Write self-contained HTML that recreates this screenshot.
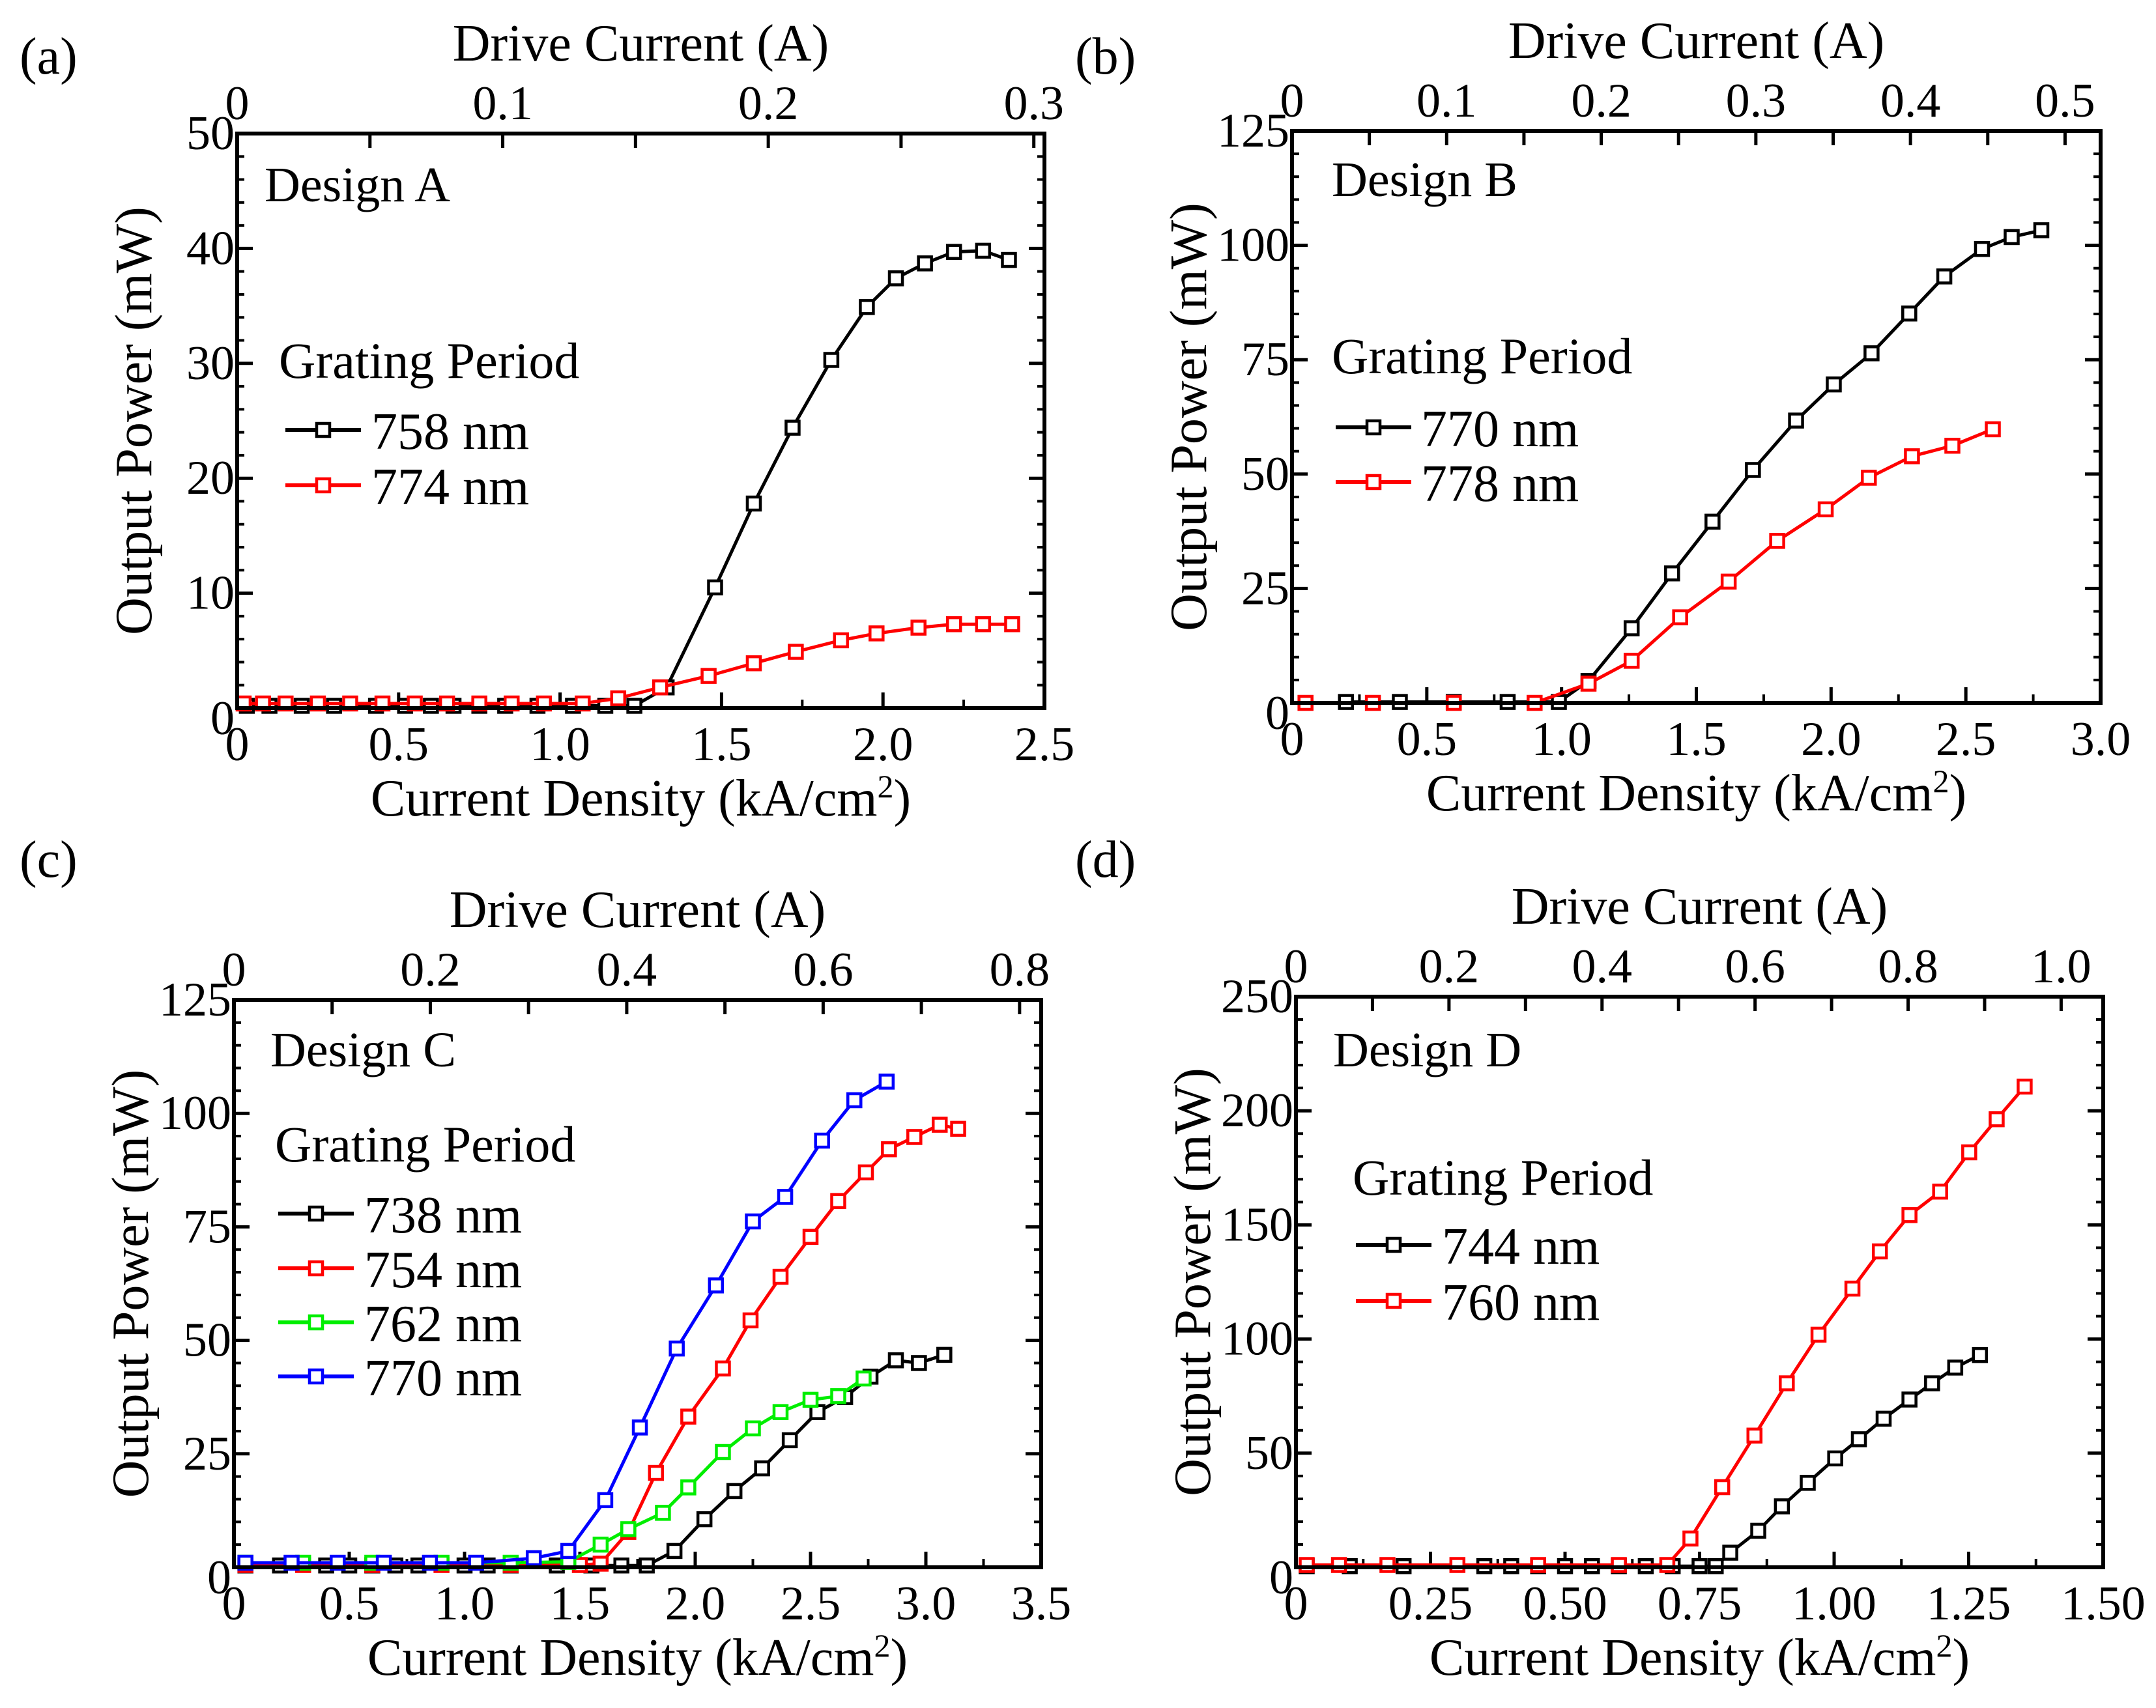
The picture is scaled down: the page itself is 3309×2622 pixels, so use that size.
<!DOCTYPE html>
<html><head><meta charset="utf-8">
<style>
html,body{margin:0;padding:0;background:#fff;}
svg{display:block;}
text{font-family:"Liberation Serif","DejaVu Serif",serif;fill:#000;}
</style></head>
<body>
<svg id="fig" width="3309" height="2622" viewBox="0 0 3309 2622" xmlns="http://www.w3.org/2000/svg" font-family="Liberation Serif, serif">
</svg>
<script>
// ---- Panel A data ----
const aBlackX=[0.03,0.1,0.2,0.3,0.43,0.52,0.6,0.67,0.75,0.83,0.93,1.04,1.14,1.23,1.33,1.48,1.60,1.72,1.84,1.95,2.04,2.13,2.22,2.31,2.39];
const aBlackY=[0.2,0.2,0.2,0.2,0.2,0.2,0.2,0.2,0.2,0.2,0.2,0.2,0.2,0.2,1.8,10.5,17.8,24.4,30.3,34.9,37.4,38.7,39.7,39.8,39.0];
const aRedX=[0.02,0.08,0.15,0.25,0.35,0.45,0.55,0.65,0.75,0.85,0.95,1.07,1.18,1.31,1.46,1.60,1.73,1.87,1.98,2.11,2.22,2.31,2.40];
const aRedY=[0.4,0.4,0.4,0.4,0.4,0.4,0.4,0.4,0.4,0.4,0.4,0.4,0.85,1.8,2.8,3.9,4.9,5.9,6.5,7.0,7.3,7.3,7.3];
// ---- Panel B data ----
const bBlackX=[0.2,0.4,0.6,0.8,0.99,1.10,1.26,1.41,1.56,1.71,1.87,2.01,2.15,2.29,2.42,2.56,2.67,2.78];
const bBlackY=[0.2,0.2,0.2,0.2,0.2,4.8,16.3,28.3,39.6,50.9,61.7,69.6,76.4,85.1,93.2,99.2,101.8,103.3];
const bRedX=[0.05,0.3,0.6,0.9,1.10,1.26,1.44,1.62,1.80,1.98,2.14,2.30,2.45,2.60];
const bRedY=[0,0,0,0,4.2,9.2,18.7,26.5,35.4,42.3,49.2,53.9,56.2,59.8];
// ---- Panel C data ----
const cBlackX=[0.05,0.2,0.4,0.5,0.6,0.7,0.8,1.0,1.1,1.2,1.4,1.55,1.68,1.79,1.91,2.04,2.17,2.29,2.41,2.53,2.65,2.76,2.87,2.97,3.08];
const cBlackY=[0.4,0.4,0.4,0.4,0.4,0.4,0.4,0.4,0.4,0.4,0.4,0.4,0.4,0.4,3.6,10.6,16.8,21.8,28.0,34.2,37.5,42.0,45.6,45.0,46.8];
const cRedX=[0.05,0.3,0.6,0.9,1.2,1.5,1.59,1.71,1.83,1.97,2.12,2.24,2.37,2.50,2.62,2.74,2.84,2.95,3.06,3.14];
const cRedY=[0.5,0.5,0.5,0.5,0.5,0.5,0.8,7.8,20.8,33.2,43.8,54.4,64.0,72.8,80.7,87.0,92.1,94.8,97.5,96.6];
const cGreenX=[0.05,0.3,0.6,0.9,1.2,1.45,1.59,1.71,1.86,1.97,2.12,2.25,2.37,2.50,2.62,2.73];
const cGreenY=[1,1,1,1,1,1.2,5.0,8.4,12.0,17.6,25.4,30.6,34.2,36.9,37.7,41.6];
const cBlueX=[0.05,0.25,0.45,0.65,0.85,1.05,1.30,1.45,1.61,1.76,1.92,2.09,2.25,2.39,2.55,2.69,2.83];
const cBlueY=[1,1,1,1,1,1,2.0,3.6,14.8,30.8,48.2,62.1,76.2,81.6,94.0,102.9,107.0];
// ---- Panel D data ----
const dBlackX=[0.02,0.1,0.2,0.35,0.4,0.45,0.5,0.55,0.6,0.65,0.7,0.75,0.78,0.807,0.859,0.903,0.951,1.002,1.046,1.092,1.140,1.182,1.225,1.271];
const dBlackY=[0.5,0.5,0.5,0.5,0.5,0.5,0.5,0.5,0.5,0.5,0.5,0.5,0.5,6.4,16.0,26.7,37.0,47.7,56.1,65.1,73.5,80.6,87.5,93.0];
const dRedX=[0.02,0.08,0.17,0.3,0.45,0.6,0.69,0.733,0.792,0.852,0.912,0.971,1.034,1.085,1.140,1.197,1.251,1.302,1.354];
const dRedY=[1,1,1,1,1,1,1,12.6,35.1,57.7,80.6,101.9,122.1,138.4,154.3,164.6,181.8,196.3,210.6];
// ---- tick labels ----
const aXTicks=["0","0.5","1.0","1.5","2.0","2.5"], aYTicks=["0","10","20","30","40","50"], aTopTicks=["0","0.1","0.2","0.3"];
const bXTicks=["0","0.5","1.0","1.5","2.0","2.5","3.0"], bYTicks=["0","25","50","75","100","125"], bTopTicks=["0","0.1","0.2","0.3","0.4","0.5"];
const cXTicks=["0","0.5","1.0","1.5","2.0","2.5","3.0","3.5"], cYTicks=["0","25","50","75","100","125"], cTopTicks=["0","0.2","0.4","0.6","0.8"];
const dXTicks=["0","0.25","0.50","0.75","1.00","1.25","1.50"], dYTicks=["0","50","100","150","200","250"], dTopTicks=["0","0.2","0.4","0.6","0.8","1.0"];

const NS="http://www.w3.org/2000/svg";
const svg=document.getElementById('fig');
function mk(tag,attrs,parent){const e=document.createElementNS(NS,tag);for(const k in attrs)e.setAttribute(k,attrs[k]);(parent||svg).appendChild(e);return e;}
function txt(s,x,y,size,anchor,parent){const t=mk('text',{x:x,y:y,'font-size':size,'text-anchor':anchor||'start','font-family':'Liberation Serif, serif'},parent);t.textContent=s;return t;}

const panels=[
 {id:'a',label:'(a)',lx:30,ly:113,x0:364,x1:1603,y0:205,y1:1087,xmax:2.5,ymax:50,topMax:0.304,xt:aXTicks,yt:aYTicks,tt:aTopTicks,design:'Design A',dx:406,dy:309,gx:428,gy:580,
  legX1:438,legX2:554,legTx:570,legY:[660,745],
  series:[{name:'758 nm',c:'#000',x:aBlackX,y:aBlackY},{name:'774 nm',c:'#ff0000',x:aRedX,y:aRedY}]},
 {id:'b',label:'(b)',lx:1650,ly:113,x0:1983,x1:3224,y0:201,y1:1079,xmax:3.0,ymax:125,topMax:0.523,xt:bXTicks,yt:bYTicks,tt:bTopTicks,design:'Design B',dx:2044,dy:301,gx:2044,gy:573,
  legX1:2050,legX2:2166,legTx:2181,legY:[656,740],
  series:[{name:'770 nm',c:'#000',x:bBlackX,y:bBlackY},{name:'778 nm',c:'#ff0000',x:bRedX,y:bRedY}]},
 {id:'c',label:'(c)',lx:30,ly:1346,x0:359,x1:1598,y0:1535,y1:2406,xmax:3.5,ymax:125,topMax:0.822,xt:cXTicks,yt:cYTicks,tt:cTopTicks,design:'Design C',dx:415,dy:1637,gx:422,gy:1783,
  legX1:427,legX2:543,legTx:559,legY:[1863,1947,2030,2113],
  series:[{name:'738 nm',c:'#000',x:cBlackX,y:cBlackY},{name:'754 nm',c:'#ff0000',x:cRedX,y:cRedY},{name:'762 nm',c:'#00ee00',x:cGreenX,y:cGreenY},{name:'770 nm',c:'#0000ff',x:cBlueX,y:cBlueY}]},
 {id:'d',label:'(d)',lx:1650,ly:1346,x0:1989,x1:3228,y0:1530,y1:2406,xmax:1.5,ymax:250,topMax:1.055,xt:dXTicks,yt:dYTicks,tt:dTopTicks,design:'Design D',dx:2046,dy:1637,gx:2076,gy:1834,
  legX1:2081,legX2:2197,legTx:2213,legY:[1911,1997],
  series:[{name:'744 nm',c:'#000',x:dBlackX,y:dBlackY},{name:'760 nm',c:'#ff0000',x:dRedX,y:dRedY}]}
];

panels.forEach(p=>{
  const g=mk('g',{});
  
  
  const sx=v=>p.x0+(v/p.xmax)*(p.x1-p.x0);
  const sy=v=>p.y1-(v/p.ymax)*(p.y1-p.y0);
  const st=v=>p.x0+(v/p.topMax)*(p.x1-p.x0);
  const lab=txt(p.label,p.lx,p.ly,80,'start',g);
  
  
  const nx=p.xt.length;
  for(let i=0;i<nx;i++){
    const v=p.xmax*i/(nx-1);
    const X=sx(v);
    mk('line',{x1:X,x2:X,y1:p.y1,y2:p.y1-24,stroke:'#000','stroke-width':5},g);
    if(i<nx-1){const X2=sx(v+p.xmax/(nx-1)/2);mk('line',{x1:X2,x2:X2,y1:p.y1,y2:p.y1-13,stroke:'#000','stroke-width':4},g);}
    const t=txt(p.xt[i],X,p.y1+80,74,'middle',g);
    
    
  }
  const nt=p.tt.length;
  const tstep=parseFloat(p.tt[1]);
  for(let i=0;i<nt;i++){
    const v=tstep*i;
    const X=st(v);
    mk('line',{x1:X,x2:X,y1:p.y0,y2:p.y0+22,stroke:'#000','stroke-width':5},g);
    const X2=st(v+tstep/2); if(X2<p.x1) mk('line',{x1:X2,x2:X2,y1:p.y0,y2:p.y0+22,stroke:'#000','stroke-width':5},g);
    const t=txt(p.tt[i],X,p.y0-22,74,'middle',g);
    
    
  }
  const ny=p.yt.length;
  for(let i=0;i<ny;i++){
    const v=p.ymax*i/(ny-1);
    const Y=sy(v);
    mk('line',{x1:p.x0,x2:p.x0+24,y1:Y,y2:Y,stroke:'#000','stroke-width':5},g);
    mk('line',{x1:p.x1,x2:p.x1-24,y1:Y,y2:Y,stroke:'#000','stroke-width':5},g);
    if(i<ny-1){for(let k=1;k<5;k++){const Y2=sy(v+p.ymax/(ny-1)*k/5);
      mk('line',{x1:p.x0,x2:p.x0+11,y1:Y2,y2:Y2,stroke:'#000','stroke-width':4},g);
      mk('line',{x1:p.x1,x2:p.x1-11,y1:Y2,y2:Y2,stroke:'#000','stroke-width':4},g);}}
    const t=txt(p.yt[i],p.x0-4,Y+(i===0?40:24),74,'end',g);
    
    
  }
  p.series.forEach((s,si)=>{
    const sg=mk('g',{},g);
    
    
    const pts=s.x.map((v,i)=>sx(v)+','+sy(s.y[i])).join(' ');
    mk('polyline',{points:pts,fill:'none',stroke:s.c,'stroke-width':5,'stroke-linejoin':'round'},sg);
    s.x.forEach((v,i)=>{
      const r=mk('rect',{x:sx(v)-10,y:sy(s.y[i])-10,width:20,height:20,fill:'#fff',stroke:s.c,'stroke-width':4.5},sg);
      
      
    });
    const ly=p.legY[si];
    const lg=mk('g',{},g);
    
    
    mk('line',{x1:p.legX1,x2:p.legX2,y1:ly,y2:ly,stroke:s.c,'stroke-width':6},lg);
    mk('rect',{x:(p.legX1+p.legX2)/2-10,y:ly-10,width:20,height:20,fill:'#fff',stroke:s.c,'stroke-width':4.5},lg);
    txt(s.name,p.legTx,ly+29,80,'start',lg);
  });
  const fr=mk('rect',{x:p.x0,y:p.y0,width:p.x1-p.x0,height:p.y1-p.y0,fill:'none',stroke:'#000','stroke-width':6},g);
  
  
  const d=txt(p.design,p.dx,p.dy,76,'start',g);
  
  
  const gp=txt('Grating Period',p.gx,p.gy,78,'start',g);
  
  
  const cx=(p.x0+p.x1)/2;
  const xt=txt('',cx,p.y1+165,80,'middle',g);
  xt.innerHTML='Current Density (kA/cm<tspan font-size="50" dy="-28">2</tspan><tspan dy="28">)</tspan>';
  
  
  const tt=txt('Drive Current (A)',cx,p.y0-112,80,'middle',g);
  
  
  const cy=(p.y0+p.y1)/2;
  const yx=p.x0-160;
  const yt=txt('Output Power (mW)',yx,cy,80,'middle',g);
  yt.setAttribute('transform','rotate(-90 '+yx+' '+cy+')');
  yt.setAttribute('dy','28');
  
  
});
</script>
</body></html>
